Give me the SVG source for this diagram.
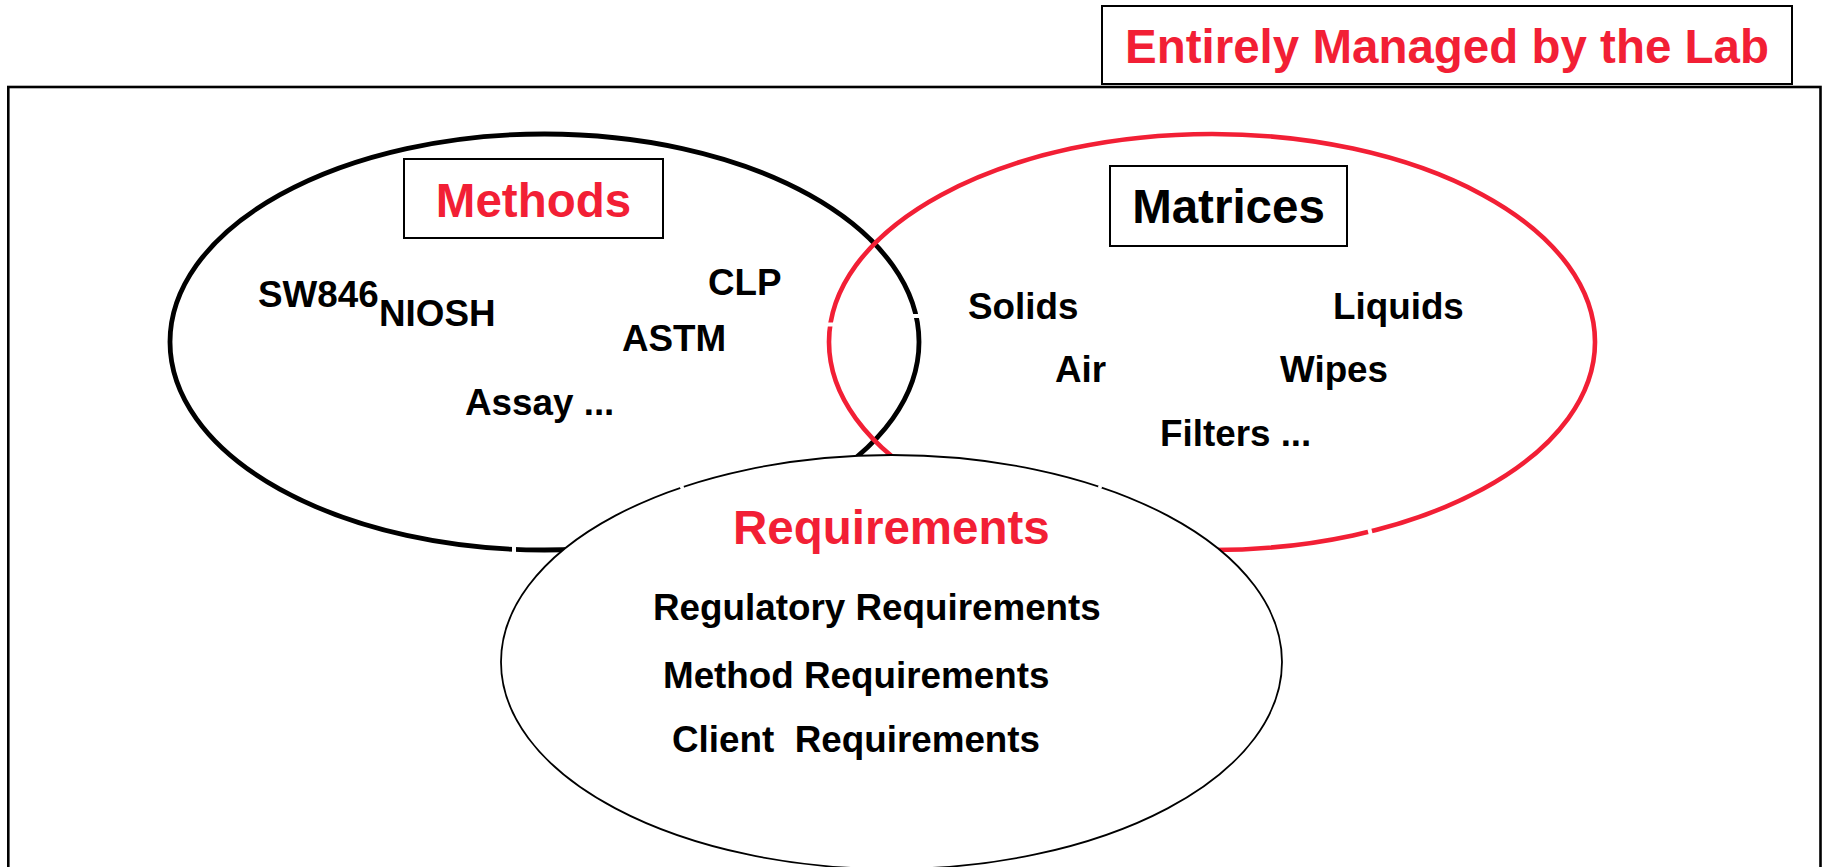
<svg xmlns="http://www.w3.org/2000/svg" width="1824" height="867" viewBox="0 0 1824 867">
  <style>
    .lbl { font-family: "Liberation Sans", Arial, sans-serif; font-weight: bold; }
    .head { font-size: 47.5px; }
    .item { font-size: 36.8px; fill: #000; }
    .red { fill: #f21f35; }
    .blk { fill: #000; }
    .box { fill: #fff; stroke: #000; stroke-width: 2; }
    .gap { stroke: #fff; stroke-width: 4; stroke-linecap: butt; }
  </style>

  <!-- outer frame, open at the bottom edge -->
  <g id="frame">
    <rect x="8.3" y="87" width="1812.2" height="820" fill="none" stroke="#000" stroke-width="2.6"/>
  </g>

  <!-- title box -->
  <g id="title">
    <rect class="box" x="1102" y="6" width="690" height="78"/>
    <text class="lbl head red" x="1447" y="63" text-anchor="middle">Entirely Managed by the Lab</text>
  </g>

  <!-- Methods set -->
  <g id="methods">
    <ellipse cx="544.5" cy="342" rx="374.5" ry="208" fill="none" stroke="#000" stroke-width="4.8"/>
    <rect class="box" x="404" y="159" width="259" height="79"/>
    <text class="lbl head red" x="533.5" y="217" text-anchor="middle">Methods</text>
    <text class="lbl item" x="258" y="307">SW846</text>
    <text class="lbl item" x="379" y="326">NIOSH</text>
    <text class="lbl item" x="708" y="295">CLP</text>
    <text class="lbl item" x="622" y="351">ASTM</text>
    <text class="lbl item" x="465" y="415">Assay ...</text>
  </g>

  <!-- Matrices set -->
  <g id="matrices">
    <ellipse cx="1212" cy="342" rx="383" ry="208" fill="none" stroke="#f21f35" stroke-width="4.6"/>
    <rect class="box" x="1110" y="166" width="237" height="80"/>
    <text class="lbl head blk" x="1228.5" y="223" text-anchor="middle">Matrices</text>
    <text class="lbl item" x="968" y="319">Solids</text>
    <text class="lbl item" x="1333" y="319">Liquids</text>
    <text class="lbl item" x="1055" y="382">Air</text>
    <text class="lbl item" x="1280" y="382">Wipes</text>
    <text class="lbl item" x="1160" y="446">Filters ...</text>
  </g>

  <!-- breaks in the set outlines -->
  <g id="breaks">
    <line class="gap" x1="906" y1="316" x2="926" y2="316"/>
    <line class="gap" x1="820" y1="324.5" x2="841" y2="324.5"/>
    <line class="gap" x1="514" y1="539" x2="514" y2="560"/>
    <line class="gap" x1="1367.5" y1="521.5" x2="1372.5" y2="541.5"/>
  </g>

  <!-- Requirements set, drawn on top -->
  <g id="requirements">
    <ellipse cx="891.5" cy="662" rx="390.5" ry="207" fill="#fff" stroke="#000" stroke-width="1.8"/>
    <circle cx="682" cy="487.3" r="2" fill="#fff"/>
    <circle cx="1100" cy="487" r="2" fill="#fff"/>
    <text class="lbl head red" x="733" y="544">Requirements</text>
    <text class="lbl item" x="653" y="620">Regulatory Requirements</text>
    <text class="lbl item" x="663" y="688">Method Requirements</text>
    <text class="lbl item" x="672" y="752" xml:space="preserve">Client  Requirements</text>
  </g>
</svg>
